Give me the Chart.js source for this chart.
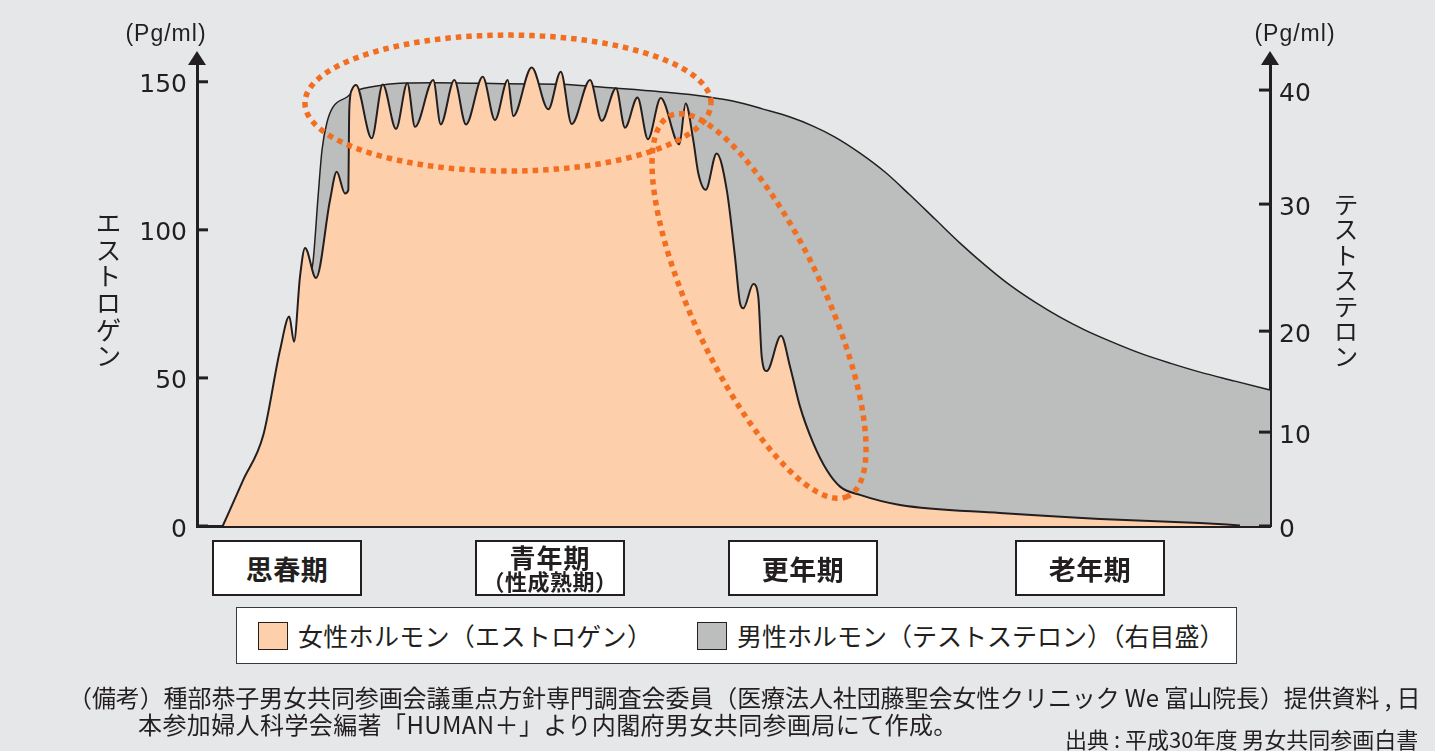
<!DOCTYPE html>
<html lang="ja">
<head>
<meta charset="utf-8">
<title>女性ホルモンと男性ホルモンの生涯変化</title>
<script src="https://cdn.jsdelivr.net/npm/chart.js@4/dist/chart.umd.min.js"></script>
<style>
  html, body { margin: 0; padding: 0; background: #e6e7e9; }
  #wrap { position: relative; width: 1435px; height: 751px; overflow: hidden;
          font-family: 'Noto Sans CJK JP', sans-serif; color: #231f20; }
  #chart { position: absolute; left: 0; top: 0; }
  .unit { position: absolute; top: 22px; width: 100px; text-align: center;
          font-family: 'Liberation Sans', sans-serif; font-size: 23px; line-height: 23px; letter-spacing: 1px; }
  .vtitle { position: absolute; writing-mode: vertical-rl; line-height: 1; white-space: nowrap; }
  .phase { position: absolute; top: 540px; width: 150px; height: 56px; box-sizing: border-box;
           border: 2.5px solid #231f20; background: #fff; display: flex; flex-direction: column;
           align-items: center; justify-content: center; font-weight: 700; line-height: 1; }
  .phase .big { font-size: 27px; letter-spacing: 0.5px; }
  .phase .two { font-size: 26px; line-height: 25px; letter-spacing: 1px; }
  .phase .sub { font-size: 22px; line-height: 23px; letter-spacing: 0.5px; font-weight: 700; }
  #legend { position: absolute; left: 236px; top: 607px; width: 1001px; height: 57px; box-sizing: border-box;
            border: 1.5px solid #3a3a3a; background: #fff; font-size: 25px; line-height: 1; }
  .sw { position: absolute; top: 14px; width: 30px; height: 28px; box-sizing: border-box; border: 1.5px solid #231f20; }
  .lt { position: absolute; top: 15px; white-space: nowrap; }
  .note { position: absolute; white-space: nowrap; font-size: 24px; line-height: 24px; }
</style>
</head>
<body>
<div id="wrap">
  <canvas id="chart" width="1435" height="751"></canvas>

  <div class="unit" style="left:116px;">(Pg/ml)</div>
  <div class="unit" style="left:1245px;">(Pg/ml)</div>
  <div class="vtitle" style="left:95px; top:210px; font-size:26px; letter-spacing:0.7px;">エストロゲン</div>
  <div class="vtitle" style="left:1333px; top:192px; font-size:25px; letter-spacing:0.4px;">テストステロン</div>

  <div class="phase" style="left:212px;"><span class="big">思春期</span></div>
  <div class="phase" style="left:475px;"><span class="two">青年期</span><span class="sub">（性成熟期）</span></div>
  <div class="phase" style="left:728px;"><span class="big">更年期</span></div>
  <div class="phase" style="left:1015px;"><span class="big">老年期</span></div>

  <div id="legend">
    <div class="sw" style="left:21px; background:#fdcfab;"></div>
    <div class="lt" style="left:61px; letter-spacing:0.3px;">女性ホルモン（エストロゲン）</div>
    <div class="sw" style="left:460px; background:#bcbebd;"></div>
    <div class="lt" style="left:500px;">男性ホルモン（テストステロン）（右目盛）</div>
  </div>

  <div class="note" style="left:68px; top:685px; letter-spacing:-0.1px;">（備考）種部恭子男女共同参画会議重点方針専門調査会委員（医療法人社団藤聖会女性クリニック We 富山院長）提供資料 , 日</div>
  <div class="note" style="left:138px; top:712px; letter-spacing:0.4px;">本参加婦人科学会編著「HUMAN＋」より内閣府男女共同参画局にて作成。</div>
  <div class="note" style="left:1065px; top:727px; font-size:22px; line-height:22px;">出典 : 平成30年度 男女共同参画白書</div>
</div>

<script>
const INK = '#231f20';
const PEACH = '#fdcfab';
const GREY = '#bcbebd';
const DOTS = '#f26f21';

// Position along the life course: 0 = left axis, 100 = right axis
const estrogenX = [
  2.40, 4.29, 6.18, 7.74, 8.60, 9.04, 9.60, 10.07, 11.09, 12.40, 13.02, 13.79,
  14.10, 14.19, 14.42, 14.82,
  16.28, 17.31, 18.55, 19.60, 20.32, 22.02, 22.71, 23.98, 25.07, 26.63,
  27.77, 28.96, 29.48, 31.19, 32.74, 33.90, 34.92, 36.63, 37.72, 39.05,
  39.89, 41.05, 42.03, 43.22, 44.95, 45.54, 46.25, 46.72, 47.41, 48.43,
  49.37, 50.14, 50.61, 50.91, 51.85, 52.31, 52.63, 53.09, 54.43, 55.27,
  56.20, 57.44, 58.69, 59.93, 61.79, 65.52, 74.84, 84.16, 93.48, 97.20
];
// Estrogen, pg/ml (left scale)
const estrogenPg = [
  0, 15.4, 30.7, 59.4, 70.7, 62.2, 84.2, 93.9, 83.7, 110.1, 119.6, 112.3,
  113.4, 140.5, 147.2, 148.9,
  130.9, 149.1, 134.1, 149.5, 134.8, 150.6, 135.6, 150.6, 135.6, 151.7,
  137.1, 150.6, 138.4, 154.8, 140.7, 153.4, 135.7, 150.6, 136.8, 147.8,
  134.5, 144.7, 130.6, 144.5, 128.9, 142.7, 130.3, 119.1, 113.5, 125.8,
  113.5, 90.9, 75.2, 73.5, 81.7, 77.4, 57.2, 52.3, 64.2, 53.8,
  40.3, 27.9, 18.9, 13.3, 10.5, 7.1, 4.4, 2.4, 1.0, 0.2
];

const testosteroneX = [
  2.40, 6.34, 8.20, 9.23, 9.60, 10.16, 10.81, 11.28, 11.65, 12.12, 12.67,
  13.98, 14.54, 17.33, 19.57, 21.99, 26.65, 31.03, 33.83, 39.14, 43.15,
  47.53, 50.61, 52.75, 55.27, 57.41, 59.46, 61.79, 64.12, 66.45, 68.78,
  71.11, 73.44, 75.77, 78.10, 80.43, 82.76, 85.09, 87.88, 90.68, 93.48,
  96.74, 100.0
];
// Testosterone, pg/ml (right scale)
const testosteronePg = [
  0, 8.62, 16.14, 18.61, 20.87, 23.23, 25.43, 30.61, 34.74, 37.19, 38.51,
  39.39, 39.82, 40.44, 40.61, 40.64, 40.59, 40.53, 40.50, 40.15, 39.85,
  39.41, 38.89, 38.33, 37.63, 36.84, 35.88, 34.47, 32.81, 30.79, 28.82,
  26.93, 25.20, 23.62, 22.28, 21.10, 20.08, 19.01, 17.82, 16.83, 15.94,
  15.05, 14.16
];

const leftTicks = [0, 50, 100, 150];
const rightTicks = [0, 10, 20, 30, 40];
// The right scale is not evenly spaced: height of each right tick on the left scale
const rightTickOnLeft = [0, 31.7, 65.8, 108.7, 147.2];

const Y_MAX = 156;

// pg/ml on the right scale -> height on the left scale (piecewise linear)
function rightToLeft(v) {
  const n = rightTicks.length;
  let i = 0;
  while (i < n - 2 && v > rightTicks[i + 1]) i++;
  const t = (v - rightTicks[i]) / (rightTicks[i + 1] - rightTicks[i]);
  return rightTickOnLeft[i] + t * (rightTickOnLeft[i + 1] - rightTickOnLeft[i]);
}

// Highlight rings, in data units: centre, and two conjugate semi-axes
const rings = [
  { cx: 28.98, cy: 142.8, ax: 18.92, ay: 0, bx: 0, by: 22.96 },
  { cx: 52.38, cy: 74.3, ax: 8.27, ay: -64.26, bx: -5.57, by: -9.42 }
];

const axisDecor = {
  id: 'axisDecor',
  afterDraw(chart) {
    const { ctx, chartArea } = chart;
    const yl = chart.scales.y, yr = chart.scales.yR;
    ctx.save();
    ctx.strokeStyle = INK;
    ctx.fillStyle = INK;
    ctx.lineWidth = 3;
    // inward tick marks
    yl.ticks.forEach(t => {
      const p = yl.getPixelForValue(t.value);
      ctx.beginPath(); ctx.moveTo(chartArea.left, p); ctx.lineTo(chartArea.left + 11, p); ctx.stroke();
    });
    yr.ticks.forEach(t => {
      const p = yr.getPixelForValue(t.value);
      ctx.beginPath(); ctx.moveTo(chartArea.right, p); ctx.lineTo(chartArea.right - 11, p); ctx.stroke();
    });
    // arrow heads on both vertical axes
    [chartArea.left, chartArea.right].forEach(x => {
      ctx.beginPath();
      ctx.moveTo(x, chartArea.top - 13);
      ctx.lineTo(x - 9, chartArea.top + 1);
      ctx.lineTo(x + 9, chartArea.top + 1);
      ctx.closePath();
      ctx.fill();
    });
    // dotted highlight rings
    const xs = chart.scales.x;
    ctx.strokeStyle = DOTS;
    ctx.lineWidth = 5.5;
    ctx.lineCap = 'butt';
    ctx.setLineDash([5.5, 5]);
    rings.forEach(r => {
      ctx.beginPath();
      const N = 360;
      for (let k = 0; k <= N; k++) {
        const a = (k / N) * Math.PI * 2;
        const px = xs.getPixelForValue(r.cx + r.ax * Math.cos(a) + r.bx * Math.sin(a));
        const py = yl.getPixelForValue(r.cy + r.ay * Math.cos(a) + r.by * Math.sin(a));
        if (k === 0) ctx.moveTo(px, py); else ctx.lineTo(px, py);
      }
      ctx.stroke();
    });
    ctx.restore();
  }
};

const tickFont = { family: "'DejaVu Sans', sans-serif", size: 25 };

new Chart(document.getElementById('chart'), {
  type: 'line',
  data: {
    datasets: [
      {
        label: '女性ホルモン（エストロゲン）',
        data: estrogenX.map((x, i) => ({ x, y: estrogenPg[i] })),
        yAxisID: 'y',
        borderColor: INK,
        borderWidth: 2,
        backgroundColor: PEACH,
        fill: 'origin',
        pointRadius: 0,
        cubicInterpolationMode: 'monotone'
      },
      {
        label: '男性ホルモン（テストステロン）（右目盛）',
        data: testosteroneX.map((x, i) => ({ x, y: rightToLeft(testosteronePg[i]) })),
        yAxisID: 'y',
        borderColor: INK,
        borderWidth: 1.5,
        backgroundColor: GREY,
        fill: 'origin',
        pointRadius: 0,
        cubicInterpolationMode: 'monotone'
      }
    ]
  },
  options: {
    responsive: false,
    animation: false,
    devicePixelRatio: 1,
    layout: { padding: { top: 64, bottom: 225, left: 0, right: 0 } },
    plugins: { legend: { display: false }, tooltip: { enabled: false } },
    scales: {
      x: {
        type: 'linear', min: 0, max: 100,
        grid: { display: false, drawTicks: false },
        ticks: { display: false },
        border: { display: true, color: INK, width: 3 },
        afterFit(s) { s.height = 0; }
      },
      y: {
        type: 'linear', position: 'left', min: 0, max: Y_MAX,
        grid: { display: false, drawTicks: false },
        border: { display: true, color: INK, width: 3 },
        ticks: { color: INK, font: tickFont, padding: 10, labelOffset: 4 },
        afterBuildTicks(s) { s.ticks = leftTicks.map(v => ({ value: v })); },
        afterFit(s) { s.width = 197; }
      },
      yR: {
        type: 'linear', position: 'right', min: 0, max: Y_MAX,
        grid: { display: false, drawTicks: false },
        border: { display: true, color: INK, width: 3 },
        ticks: { color: INK, font: tickFont, padding: 9, labelOffset: 4,
                 callback: (v, i) => String(rightTicks[i]) },
        afterBuildTicks(s) { s.ticks = rightTickOnLeft.map(v => ({ value: v })); },
        afterFit(s) { s.width = 165; }
      }
    }
  },
  plugins: [axisDecor]
});
</script>
</body>
</html>
